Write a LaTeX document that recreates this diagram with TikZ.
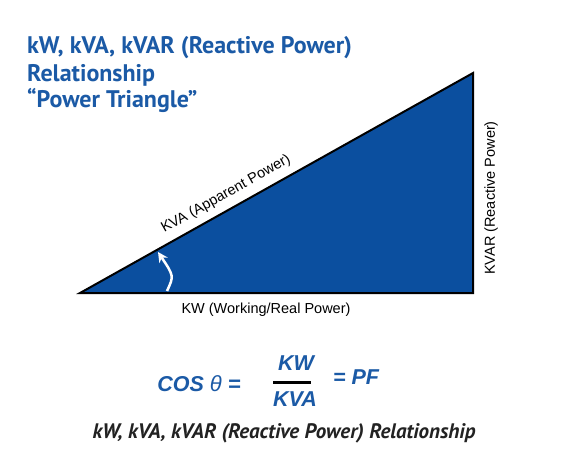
\documentclass[tikz,border=0pt]{standalone}
\usepackage{fontspec}
\setmainfont{Liberation Sans}
\newfontfamily\titlefont{PT Sans}
\usetikzlibrary{arrows.meta}
\definecolor{tblue}{HTML}{1B5AA6}
\definecolor{fillblue}{HTML}{0B4F9F}
\definecolor{capgray}{HTML}{222222}
\tikzset{
  titletext/.style={anchor=base west, inner sep=0pt, text=tblue, font=\titlefont\bfseries\fontsize{24}{28}\selectfont},
  sidelabel/.style={inner sep=0pt, text=black, font=\fontsize{14.5}{16}\selectfont},
  formula/.style={inner sep=0pt, text=tblue, font=\bfseries\itshape\fontsize{21.5}{24}\selectfont},
  captiontext/.style={anchor=base, inner sep=0pt, text=capgray, font=\titlefont\bfseries\itshape\fontsize{21}{24}\selectfont},
  anglearrow/.style={draw=white, line width=2.5pt, -{Stealth[length=10pt,width=10pt]}}
}
\begin{document}
\begin{tikzpicture}[x=1pt,y=-1pt]
\useasboundingbox[fill=white] (0,0) rectangle (561,458);
% title
\node[titletext] (t1) at (27,53) {kW, kVA, kVAR (Reactive Power)};
\node[titletext] (t2) at (27,81) {Relationship};
\node[titletext] (t3) at (27,107) {“Power Triangle”};
% triangle
\coordinate (A) at (80,293);
\coordinate (B) at (473,73);
\coordinate (C) at (473,293);
\fill[fillblue, draw=black, line width=2pt, line join=miter] (A) -- (B) -- (C) -- cycle;
% angle arrow
\coordinate (arrS) at (167,291);
\coordinate (arrE) at (158,252);
\draw[anglearrow] (arrS) .. controls (174,276) .. (arrE);
% labels
\path (A) -- (B) node[sidelabel, pos=0.39, sloped, above=8pt] (kva) {KVA (Apparent Power)};
\node[sidelabel] (kw) at (266,310) {KW (Working/Real Power)};
\node[sidelabel, rotate=90] (kvar) at (491,198) {KVAR (Reactive Power)};
% formula
\node[formula] (cos) at (199,384) {COS \normalfont\itshape\fontsize{22}{24}\selectfont θ\bfseries\itshape{} =};
\node[formula] (num) at (296,363) {KW};
\node[formula] (den) at (295,399) {KVA};
\draw[black, line width=3pt] (273,382) -- (311,382);
\node[formula] (pf) at (356,377) {= PF};
% caption
\node[captiontext] (cap) at (284,438) {kW, kVA, kVAR (Reactive Power) Relationship};
\end{tikzpicture}
\end{document}
